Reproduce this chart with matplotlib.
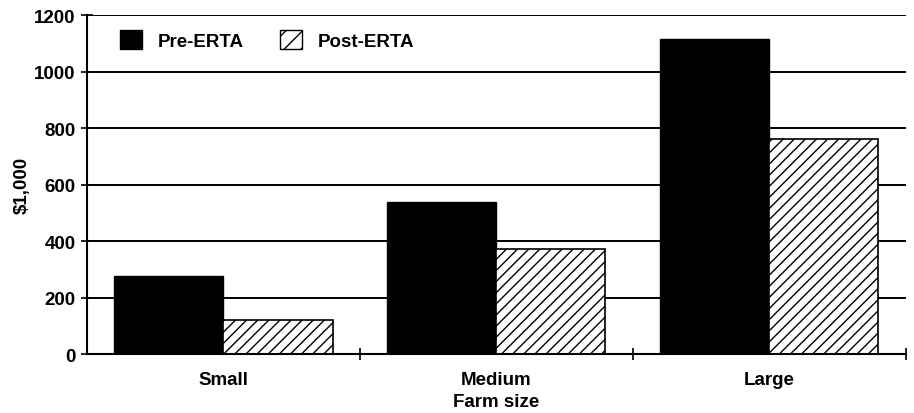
import matplotlib.pyplot as plt
import numpy as np
from matplotlib.patches import Patch

categories = ["Small", "Medium", "Large"]
pre_erta = [275, 540, 1117]
post_erta = [121, 371, 760]
y_ticks = [0, 200, 400, 600, 800, 1000, 1200]

FONT_SIZE = 13.5

plt.rcParams["font.family"] = ["Liberation Sans", "DejaVu Sans"]
plt.rcParams["font.weight"] = "bold"
plt.rcParams["hatch.linewidth"] = 1.0

fig = plt.figure(figsize=(9.14, 4.14), dpi=100)
ax = fig.add_axes([0.095, 0.1425, 0.896, 0.8185])

x = np.arange(len(categories))
width = 0.4

ax.bar(x - width / 2, pre_erta, width, color="black", edgecolor="black",
       linewidth=1.0, zorder=3)
ax.bar(x + width / 2, post_erta, width, color="white", edgecolor="black",
       hatch="///", linewidth=1.2, zorder=3)

ax.set_xlim(-0.5, 2.5)
ax.set_ylim(0, 1200)
ax.set_yticks(y_ticks)
ax.set_yticklabels([str(v) for v in y_ticks], fontsize=FONT_SIZE, fontweight="bold")
ax.set_xticks(x)
ax.set_xticklabels(categories, fontsize=FONT_SIZE, fontweight="bold")
ax.set_xticks([0.5, 1.5, 2.5], minor=True)

ax.tick_params(axis="x", which="major", length=0, pad=12)
ax.tick_params(axis="x", which="minor", direction="inout", length=8, width=1.2)
ax.tick_params(axis="y", direction="inout", length=8, width=1.2, pad=4)

ax.grid(axis="y", color="black", linewidth=1.4, zorder=0)
ax.set_axisbelow(True)

for side in ("top", "right"):
    ax.spines[side].set_visible(False)
for side in ("left", "bottom"):
    ax.spines[side].set_linewidth(1.5)
    ax.spines[side].set_zorder(4)

ax.set_ylabel("$1,000", fontsize=FONT_SIZE, fontweight="bold")
ax.set_xlabel("Farm size", fontsize=FONT_SIZE, fontweight="bold")
ax.yaxis.label.set_va("center")
ax.xaxis.label.set_va("baseline")
ax.yaxis.set_label_coords(-0.079, 0.5)
ax.xaxis.set_label_coords(0.5, -0.153)

handles = [
    Patch(facecolor="black", edgecolor="black", label="Pre-ERTA"),
    Patch(facecolor="white", edgecolor="black", hatch="//", label="Post-ERTA"),
]
leg = ax.legend(handles=handles, loc="upper left", bbox_to_anchor=(0.02, 1.005),
                ncol=2, frameon=False, fontsize=FONT_SIZE, handlelength=1.15,
                handleheight=1.15, handletextpad=0.85, columnspacing=1.95)
for t in leg.get_texts():
    t.set_fontweight("bold")

fig.savefig("out.png", dpi=100)
